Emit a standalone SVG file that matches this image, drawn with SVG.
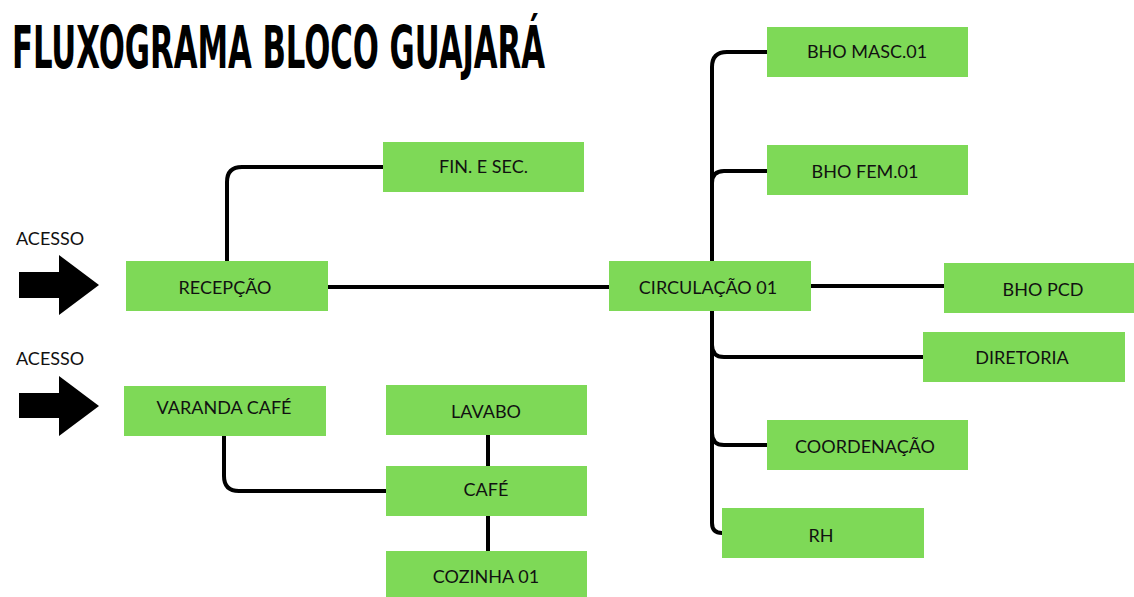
<svg xmlns="http://www.w3.org/2000/svg" width="1134" height="597" viewBox="0 0 1134 597">
<defs>
<style>
.box{fill:#7ed957}
.lbl{font-family:Lato,"Liberation Sans",sans-serif;font-size:18px;fill:#111;text-anchor:middle}
.acc{font-family:Lato,"Liberation Sans",sans-serif;font-size:18px;fill:#111}
.ln{fill:none;stroke:#000;stroke-width:4;stroke-linecap:butt}
.title{font-family:"Liberation Sans Narrow","DejaVu Sans Condensed","Liberation Sans",sans-serif;font-weight:bold;font-size:58px;fill:#000}
</style>
</defs>
<rect width="1134" height="597" fill="#fff"/>
<text class="title" x="12" y="68" textLength="533" lengthAdjust="spacingAndGlyphs">FLUXOGRAMA BLOCO GUAJARÁ</text>

<g id="acesso1">
<text class="acc" x="16" y="245">ACESSO</text>
<polygon points="19,272 59,272 59,255 99,285 59,315 59,298 19,298" fill="#000"/>
</g>
<g id="acesso2">
<text class="acc" x="16" y="365">ACESSO</text>
<polygon points="19,393 59,393 59,376 99,406 59,436 59,418 19,418" fill="#000"/>
</g>

<g id="connectors">
<path class="ln" d="M328,287 H609"/>
<path class="ln" d="M227,261 V182 Q227,167 242,167 H383"/>
<path class="ln" d="M811,286 H944"/>
<path class="ln" d="M767,52 H727 Q712,52 712,67 V523 Q712,533 722,533"/>
<path class="ln" d="M712,183 Q712,171 724,171 H767"/>
<path class="ln" d="M712,345 Q712,357 724,357 H923"/>
<path class="ln" d="M712,433 Q712,445 724,445 H767"/>
<path class="ln" d="M224,436 V476 Q224,491 239,491 H386"/>
<path class="ln" d="M488,435 V466"/>
<path class="ln" d="M488,515 V551"/>
</g>

<g id="fin"><rect class="box" x="383" y="142" width="201" height="50"/><text class="lbl" x="483.5" y="173">FIN. E SEC.</text></g>
<g id="recepcao"><rect class="box" x="126" y="261" width="202" height="50"/><text class="lbl" x="225" y="294">RECEPÇÃO</text></g>
<g id="varanda"><rect class="box" x="124" y="386" width="202" height="50"/><text class="lbl" x="224" y="414">VARANDA CAFÉ</text></g>
<g id="circulacao"><rect class="box" x="609" y="261" width="202" height="50"/><text class="lbl" x="708" y="294">CIRCULAÇÃO 01</text></g>
<g id="bho-masc"><rect class="box" x="767" y="27" width="201" height="50"/><text class="lbl" x="867" y="58">BHO MASC.01</text></g>
<g id="bho-fem"><rect class="box" x="767" y="145" width="201" height="50"/><text class="lbl" x="865" y="178">BHO FEM.01</text></g>
<g id="bho-pcd"><rect class="box" x="944" y="263" width="202" height="50"/><text class="lbl" x="1043" y="296">BHO PCD</text></g>
<g id="diretoria"><rect class="box" x="923" y="332" width="202" height="50"/><text class="lbl" x="1022" y="364">DIRETORIA</text></g>
<g id="coordenacao"><rect class="box" x="767" y="420" width="201" height="50"/><text class="lbl" x="865" y="453">COORDENAÇÃO</text></g>
<g id="rh"><rect class="box" x="722" y="508" width="202" height="50"/><text class="lbl" x="821" y="542">RH</text></g>
<g id="lavabo"><rect class="box" x="386" y="385" width="201" height="50"/><text class="lbl" x="486" y="418">LAVABO</text></g>
<g id="cafe"><rect class="box" x="386" y="466" width="201" height="50"/><text class="lbl" x="486" y="496">CAFÉ</text></g>
<g id="cozinha"><rect class="box" x="386" y="551" width="201" height="50"/><text class="lbl" x="486" y="583">COZINHA 01</text></g>
</svg>
